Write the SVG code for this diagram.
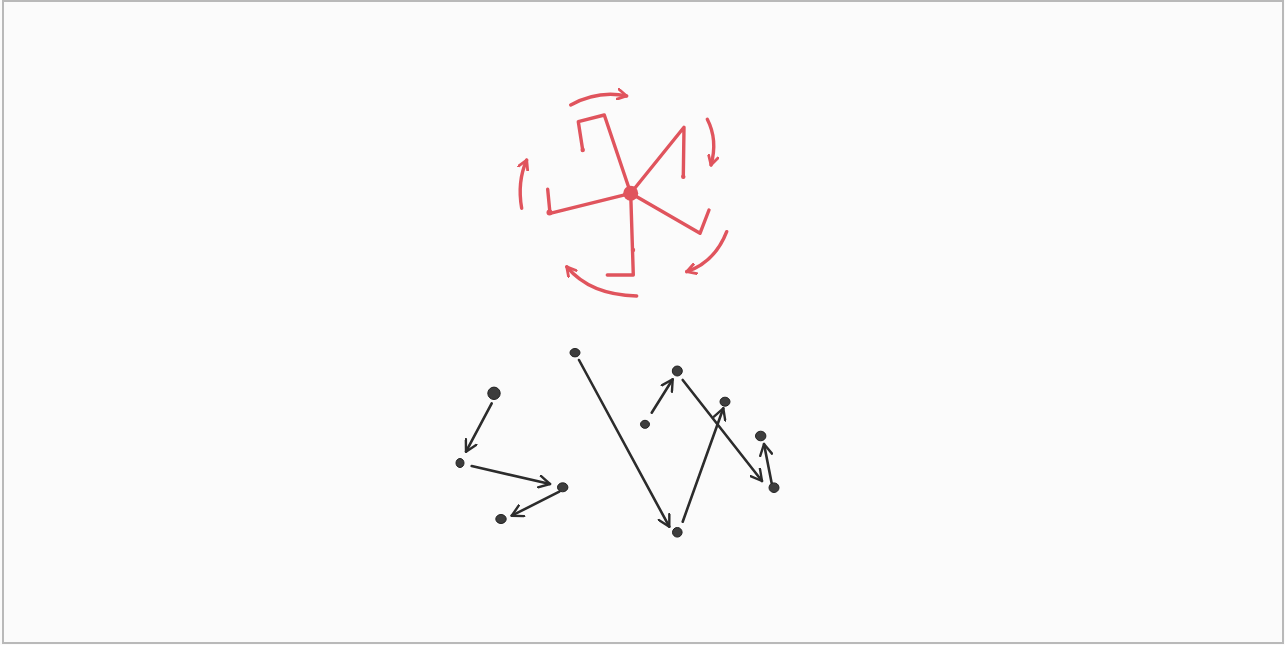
<svg xmlns="http://www.w3.org/2000/svg" width="1285" height="645" viewBox="0 0 1285 645">
<defs>
<style>
.red{fill:none;stroke:#e0545d;stroke-width:3.4;stroke-linecap:round;stroke-linejoin:round}
.redfill{fill:#e0545d}
.blk{fill:none;stroke:#2c2c2c;stroke-width:2.6;stroke-linecap:round;stroke-linejoin:round}
.node{fill:#3d3d3d;stroke:#222;stroke-width:1}
</style>
<marker id="ar" viewBox="0 0 12 12" refX="10" refY="6" markerWidth="12" markerHeight="12" markerUnits="userSpaceOnUse" orient="auto">
<path d="M1,1 L10,6 L1,11" fill="none" stroke="#e0545d" stroke-width="2.8" stroke-linecap="round" stroke-linejoin="round"/>
</marker>
<marker id="ab" viewBox="0 0 14 14" refX="12" refY="7" markerWidth="14" markerHeight="14" markerUnits="userSpaceOnUse" orient="auto">
<path d="M1,1 L12,7 L1,13" fill="none" stroke="#2c2c2c" stroke-width="2.4" stroke-linecap="round" stroke-linejoin="round"/>
</marker>
</defs>
<rect x="0" y="0" width="1285" height="645" fill="#fbfbfb"/>
<rect x="3" y="1" width="1280" height="642" fill="#fbfbfb" stroke="#b9b9b9" stroke-width="2"/>

<g id="pinwheel">
<g id="arms">
<polyline class="red" points="630.7,193.3 604.3,115 578.3,121.7 582.7,150"/>
<polyline class="red" points="630.7,193.3 684,127.3 683.3,176.7"/>
<polyline class="red" points="630.7,193.3 700,233.3 709,210"/>
<polyline class="red" points="630.7,193.3 633.3,275 607.3,275"/>
<polyline class="red" points="630.7,193.3 550,213.3 547.7,189.3"/>
<circle class="redfill" cx="582.7" cy="150" r="2.2"/>
<circle class="redfill" cx="683.3" cy="176.7" r="2.2"/>
<circle class="redfill" cx="633" cy="250" r="2.2"/>
<circle class="redfill" cx="549.5" cy="212.5" r="3"/>
<circle class="redfill" cx="630.7" cy="193.3" r="7.5"/>
</g>
<g id="rotation-arrows">
<path class="red" d="M570.7,105 Q598,90 626.7,96" marker-end="url(#ar)"/>
<path class="red" d="M707.3,119.3 Q718,140 711,165" marker-end="url(#ar)"/>
<path class="red" d="M726.7,231.7 Q715,262 686.7,271.7" marker-end="url(#ar)"/>
<path class="red" d="M636.7,296 Q590,295 566.7,266.7" marker-end="url(#ar)"/>
<path class="red" d="M521.7,208.3 Q517,182 526.7,160" marker-end="url(#ar)"/>
</g>
</g>

<g id="connectors">
<line class="blk" x1="491.7" y1="403.3" x2="466" y2="451.7" marker-end="url(#ab)"/>
<line class="blk" x1="471.7" y1="466" x2="550" y2="484" marker-end="url(#ab)"/>
<line class="blk" x1="559.3" y1="491.7" x2="511.7" y2="515.7" marker-end="url(#ab)"/>
<line class="blk" x1="579" y1="360" x2="669.3" y2="526.7" marker-end="url(#ab)"/>
<line class="blk" x1="651.7" y1="412.7" x2="672.7" y2="379.3" marker-end="url(#ab)"/>
<line class="blk" x1="682.7" y1="380" x2="762" y2="481" marker-end="url(#ab)"/>
<line class="blk" x1="682.7" y1="521.7" x2="723.3" y2="408.3" marker-end="url(#ab)"/>
<line class="blk" x1="771.7" y1="483.3" x2="764" y2="444" marker-end="url(#ab)"/>
</g>

<g id="node-a"><ellipse class="node" cx="575" cy="352.7" rx="5" ry="4.2"/></g>
<g id="node-b"><circle class="node" cx="494" cy="393.3" r="6.2"/></g>
<g id="node-c"><ellipse class="node" cx="460" cy="463" rx="4" ry="4.5"/></g>
<g id="node-d"><ellipse class="node" cx="562.7" cy="487.3" rx="5.2" ry="4.5"/></g>
<g id="node-e"><ellipse class="node" cx="501" cy="519" rx="5.2" ry="4.5"/></g>
<g id="node-f"><circle class="node" cx="677.3" cy="371" r="5"/></g>
<g id="node-g"><ellipse class="node" cx="645" cy="424.3" rx="4.5" ry="4"/></g>
<g id="node-h"><ellipse class="node" cx="725" cy="401.7" rx="5" ry="4.5"/></g>
<g id="node-i"><ellipse class="node" cx="760.7" cy="436" rx="5.2" ry="4.8"/></g>
<g id="node-j"><ellipse class="node" cx="774" cy="487.7" rx="5" ry="4.8"/></g>
<g id="node-k"><circle class="node" cx="677.3" cy="532.3" r="4.8"/></g>
</svg>
